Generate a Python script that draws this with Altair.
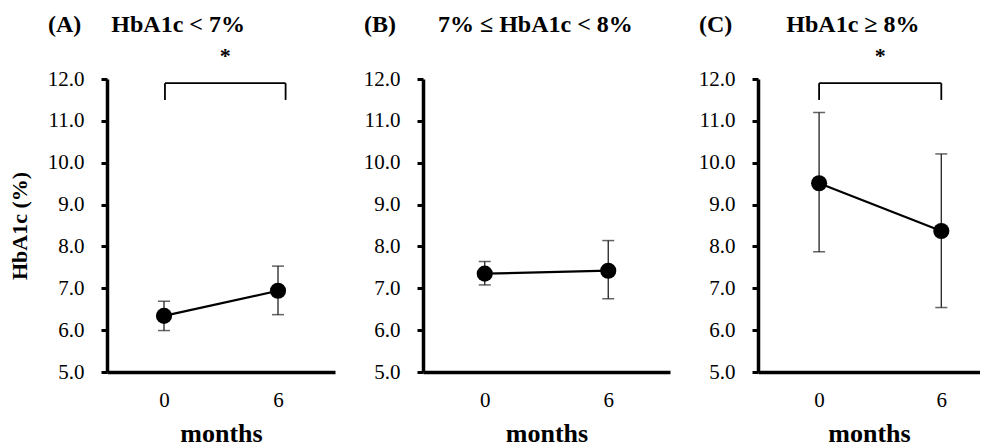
import altair as alt
import pandas as pd

# ---- data ----
months = [0, 6]

a_mean = [6.34, 6.94]
a_lo = [5.99, 6.37]
a_hi = [6.69, 7.53]

b_mean = [7.35, 7.42]
b_lo = [7.08, 6.75]
b_hi = [7.64, 8.14]

c_mean = [9.51, 8.37]
c_lo = [7.87, 6.54]
c_hi = [11.20, 10.21]

a_bracket_x = [0.05, 6.4]
c_bracket_x = [0.0, 6.0]
bracket_y = [11.5, 11.9]   # bottom of legs, top bar
star_y = 12.55

y_ticks = [5, 6, 7, 8, 9, 10, 11, 12]

SERIF = "Liberation Serif"
NB = "\u00a0"


def panel(title, mean, lo, hi, width, xdomain, ytitle, title_offset, bracket_x=None):
    df = pd.DataFrame({"month": months, "mean": mean, "lo": lo, "hi": hi})
    xscale = alt.Scale(domain=xdomain, nice=False, zero=False)
    yscale = alt.Scale(domain=[5, 12], nice=False, zero=False)
    xaxis = alt.Axis(values=months, format="d", title="months", ticks=False, tickSize=0,
                     grid=False, domainWidth=3.5, domainColor="black",
                     labelFont=SERIF, labelFontSize=21, labelColor="black", labelPadding=17,
                     titleFont=SERIF, titleFontSize=26, titleFontWeight="bold",
                     titleColor="black", titlePadding=10)
    yaxis = alt.Axis(values=y_ticks, format=".1f", title=ytitle, grid=False,
                     domainWidth=3.5, domainColor="black", tickColor="black",
                     tickWidth=3, tickSize=6, labelFont=SERIF, labelFontSize=21,
                     labelColor="black", labelPadding=17,
                     titleFont=SERIF, titleFontSize=22, titleFontWeight="bold",
                     titleColor="black", titlePadding=16)
    X = alt.X("month:Q", scale=xscale, axis=xaxis)
    base = alt.Chart(df)
    rules = base.mark_rule(color="#222", strokeWidth=1.3).encode(
        x=X, y=alt.Y("lo:Q", scale=yscale, axis=yaxis), y2="hi:Q")
    cap_lo = base.mark_tick(color="#222", orient="horizontal", size=12, thickness=1.5).encode(
        x=X, y=alt.Y("lo:Q", scale=yscale, axis=yaxis))
    cap_hi = base.mark_tick(color="#222", orient="horizontal", size=12, thickness=1.5).encode(
        x=X, y=alt.Y("hi:Q", scale=yscale, axis=yaxis))
    line = base.mark_line(color="black", strokeWidth=2.2).encode(
        x=X, y=alt.Y("mean:Q", scale=yscale, axis=yaxis))
    pts = base.mark_circle(color="black", opacity=1, size=260).encode(
        x=X, y=alt.Y("mean:Q", scale=yscale, axis=yaxis))
    layers = [rules, cap_lo, cap_hi, line, pts]
    if bracket_x is not None:
        bdf = pd.DataFrame({"bx": bracket_x, "ylo": [bracket_y[0]] * 2,
                            "yhi": [bracket_y[1]] * 2})
        legs = alt.Chart(bdf).mark_rule(color="black", strokeWidth=1.8).encode(
            x=alt.X("bx:Q", scale=xscale, axis=xaxis),
            y=alt.Y("ylo:Q", scale=yscale, axis=yaxis), y2="yhi:Q")
        top = alt.Chart(pd.DataFrame({"x1": [bracket_x[0]], "x2": [bracket_x[1]],
                                      "yt": [bracket_y[1]]})).mark_rule(
            color="black", strokeWidth=1.8).encode(
            x=alt.X("x1:Q", scale=xscale, axis=xaxis), x2="x2:Q",
            y=alt.Y("yt:Q", scale=yscale, axis=yaxis))
        star = alt.Chart(pd.DataFrame({"sx": [sum(bracket_x) / 2], "sy": [star_y],
                                       "t": ["*"]})).mark_text(
            font=SERIF, fontSize=22, fontWeight="bold", color="black").encode(
            x=alt.X("sx:Q", scale=xscale, axis=xaxis),
            y=alt.Y("sy:Q", scale=yscale, axis=yaxis), text="t:N")
        layers += [legs, top, star]
    return alt.layer(*layers).properties(
        width=width, height=293,
        title=alt.TitleParams(title, anchor="start", frame="group", dx=-59,
                              offset=title_offset, font=SERIF, fontSize=24,
                              fontWeight="bold", color="black"))


pa = panel("(A)" + NB * 5 + "HbA1c < 7%", a_mean, a_lo, a_hi, 228, [-3, 9],
           "HbA1c (%)", 8, a_bracket_x)
pb = panel("(B)" + NB * 7 + "7% \u2264 HbA1c < 8%", b_mean, b_lo, b_hi, 247, [-3, 9],
           None, 31)
pc = panel("(C)" + NB * 9 + "HbA1c \u2265 8%", c_mean, c_lo, c_hi, 222, [-3, 7.9],
           None, 8, c_bracket_x)

chart = alt.hconcat(pa, pb, pc, spacing=88, bounds="flush").properties(
    padding={"left": 0, "top": 4, "right": 0, "bottom": 0},
    background="white",
).configure_view(stroke="transparent", strokeWidth=0)

chart.save("out.html", embed_options={"renderer": "svg", "actions": False})
